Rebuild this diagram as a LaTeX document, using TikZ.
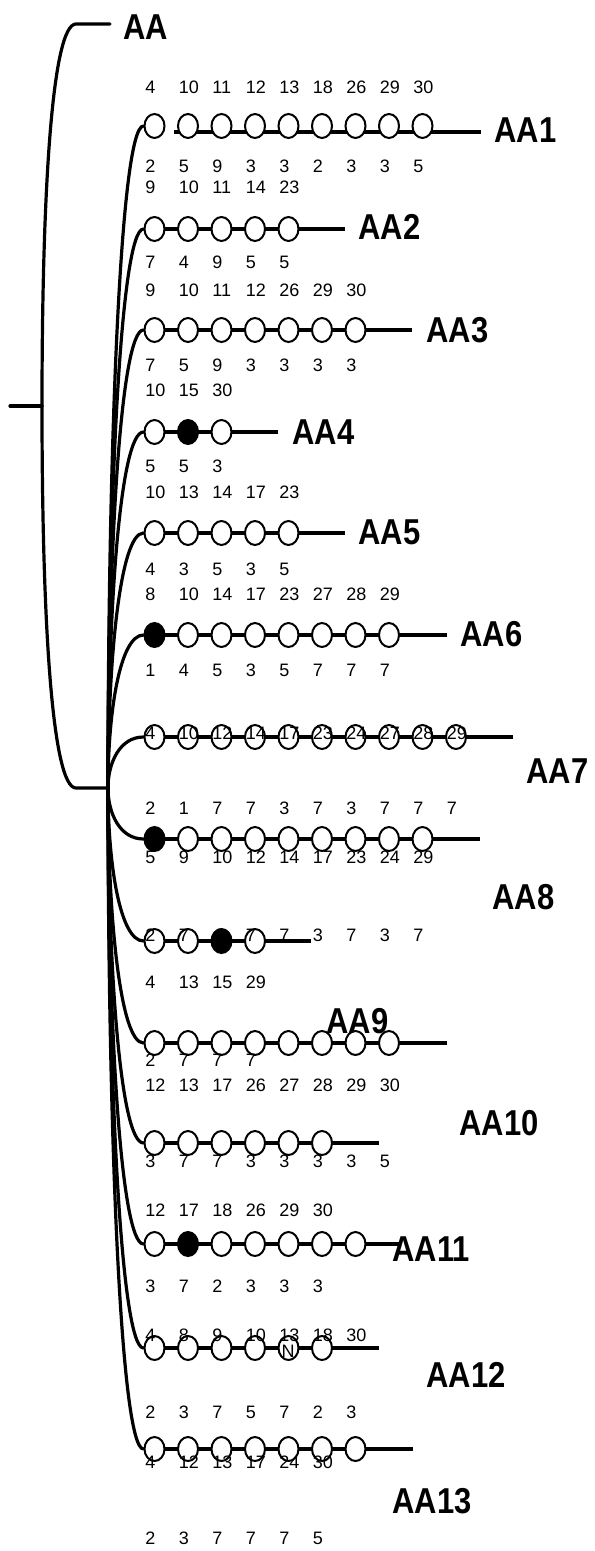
\documentclass[tikz,border=0pt]{standalone}
\usepackage{fontspec}
\setmainfont{Liberation Sans}
\newfontfamily\labfont[FakeStretch=0.86]{Liberation Sans}
\usetikzlibrary{shapes.geometric}
\pgfdeclarelayer{bg}
\pgfsetlayers{bg,main}
\tikzset{
  branch/.style={line width=1.6pt,line cap=round},
  bar/.style={line width=2.3pt},
  dot/.style={ellipse,draw,line width=1pt,inner sep=0pt,minimum width=10pt,minimum height=12pt},
  o/.style={fill=white},
  f/.style={fill=black},
  num/.style={anchor=base west,inner sep=0pt,font=\fontsize{9}{10}\selectfont},
  lab/.style={anchor=base west,inner sep=0pt,font=\labfont\fontsize{18}{20}\selectfont\bfseries},
}
% #1 row id, #2 y, #3 circle styles, #4 line end x
\newcommand\crow[4]{%
  \foreach \s [count=\j from 0] in {#3} {\node[dot,\s] (r#1c\j) at ({154.5+33.5*\j},#2) {};}
  \coordinate (e#1) at (#4,#2);
  \begin{pgfonlayer}{bg}
    \draw[bar] (r#1c0.center) -- (e#1);
    \draw[branch] (S) .. controls (108,{(#2+788)/2}) and (120,#2) .. (r#1c0.west);
  \end{pgfonlayer}
}
% #1 name prefix, #2 y (centre of digits), #3 list
\newcommand\nums[3]{%
  \foreach \t [count=\j from 0] in {#3} {\node[num] (#1-\j) at ({145+33.5*\j},{#2+6.4}) {\t};}
}
% #1 name, #2 x, #3 y centre, #4 text
\newcommand\lbl[4]{\node[lab] (#1) at (#2,{#3+12.8}) {#4};}
\begin{document}
\begin{tikzpicture}[x=0.5pt,y=-0.5pt]
\path[use as bounding box] (0,0) rectangle (594,1551);
% tree skeleton
\coordinate (R0) at (10,406);
\coordinate (R) at (42,406);
\coordinate (T) at (76,24);
\coordinate (Te) at (110,24);
\coordinate (B) at (76,788);
\coordinate (S) at (108,788);
\draw[branch] (R0) -- (R);
\draw[branch] (R) .. controls (42,192) and (52,24) .. (T) -- (Te);
\draw[branch] (R) .. controls (42,620) and (52,788) .. (B) -- (S);
\lbl{L0}{123}{27}{AA}
% row 1 (AA1)
\foreach \j in {0,...,8} {\node[dot,o] (r1c\j) at ({154.5+33.5*\j},126) {};}
\coordinate (b1) at (174,132);
\coordinate (e1) at (481,132);
\begin{pgfonlayer}{bg}
\draw[bar] (b1) -- (e1);
\draw[branch] (S) .. controls (108,457) and (120,126) .. (r1c0.west);
\end{pgfonlayer}
\crow{2}{229}{o,o,o,o,o}{345}
\crow{3}{330}{o,o,o,o,o,o,o}{412}
\crow{4}{432}{o,f,o}{278}
\crow{5}{533}{o,o,o,o,o}{345}
\crow{6}{635}{f,o,o,o,o,o,o,o}{447}
\crow{7}{737}{o,o,o,o,o,o,o,o,o,o}{513}
\crow{8}{839}{f,o,o,o,o,o,o,o,o}{480}
\crow{9}{941}{o,o,f,o}{311}
\crow{10}{1043}{o,o,o,o,o,o,o,o}{447}
\crow{11}{1143}{o,o,o,o,o,o}{379}
\crow{12}{1244}{o,f,o,o,o,o,o}{401}
\crow{13}{1348}{o,o,o,o,o,o}{379}
\crow{14}{1449}{o,o,o,o,o,o,o}{413}
% labels
\lbl{L1}{494}{130}{AA1}
\lbl{L2}{358}{227}{AA2}
\lbl{L3}{426}{330}{AA3}
\lbl{L4}{292}{432}{AA4}
\lbl{L5}{358}{532}{AA5}
\lbl{L6}{460}{634}{AA6}
\lbl{L7}{526}{771}{AA7}
\lbl{L8}{492}{897}{AA8}
\lbl{L9}{326}{1021}{AA9}
\lbl{L10}{459}{1123}{AA10}
\lbl{L11}{392}{1249}{AA11}
\lbl{L12}{426}{1375}{AA12}
\lbl{L13}{392}{1501}{AA13}
% numbers
\nums{a}{87}{4,10,11,12,13,18,26,29,30}
\nums{b}{166}{2,5,9,3,3,2,3,3,5}
\nums{c}{187}{9,10,11,14,23}
\nums{d}{262}{7,4,9,5,5}
\nums{e}{290}{9,10,11,12,26,29,30}
\nums{f}{365}{7,5,9,3,3,3,3}
\nums{g}{390}{10,15,30}
\nums{h}{466}{5,5,3}
\nums{i}{492}{10,13,14,17,23}
\nums{j}{569}{4,3,5,3,5}
\nums{k}{594}{8,10,14,17,23,27,28,29}
\nums{l}{670}{1,4,5,3,5,7,7,7}
\nums{m}{733}{4,10,12,14,17,23,24,27,28,29}
\nums{n}{808}{2,1,7,7,3,7,3,7,7,7}
\nums{p}{857}{5,9,10,12,14,17,23,24,29}
\nums{q}{935}{2,7,4,7,7,3,7,3,7}
\nums{r}{982}{4,13,15,29}
\nums{s}{1060}{2,7,7,7}
\nums{t}{1085}{12,13,17,26,27,28,29,30}
\nums{u}{1161}{3,7,7,3,3,3,3,5}
\nums{v}{1210}{12,17,18,26,29,30}
\nums{w}{1286}{3,7,2,3,3,3}
\nums{x}{1335}{4,8,9,10,13,18,30}
\nums{y}{1412}{2,3,7,5,7,2,3}
\nums{z}{1462}{4,12,13,17,24,30}
\nums{zz}{1538}{2,3,7,7,7,5}
\node[num,anchor=center] (glyph) at (288,1351) {N};
\end{tikzpicture}
\end{document}
